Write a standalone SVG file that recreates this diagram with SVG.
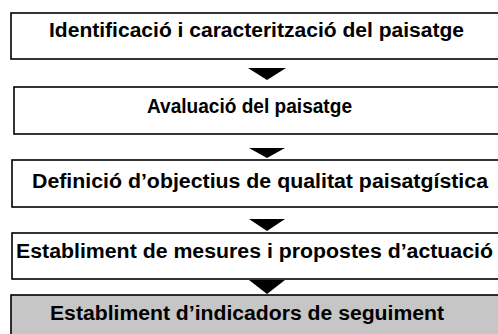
<svg xmlns="http://www.w3.org/2000/svg" width="498" height="334" viewBox="0 0 498 334">
<style>
.box{fill:#ffffff;stroke:#000000;stroke-width:1.6}
.grey{fill:#c6c6c6}
.lbl{font-family:"Liberation Sans",Arial,sans-serif;font-weight:bold;font-size:20px;fill:#000000}
.arr{fill:#000000}
</style>
<rect width="498" height="334" fill="#ffffff"/>
<g id="connectors">
<polygon class="arr" points="248,68 286,68 267,80"/>
<polygon class="arr" points="249,148 285,148 267,158"/>
<polygon class="arr" points="249,219 285,219 267,231"/>
<polygon class="arr" points="249,280 285,280 267,294"/>
</g>
<g id="node1">
<rect class="box" x="11" y="13" width="500" height="46"/>
<text class="lbl" x="49" y="37" textLength="415" lengthAdjust="spacingAndGlyphs">Identificació i caracterització del paisatge</text>
</g>
<g id="node2">
<rect class="box" x="14" y="87" width="500" height="47"/>
<text class="lbl" x="147" y="113" textLength="205" lengthAdjust="spacingAndGlyphs">Avaluació del paisatge</text>
</g>
<g id="node3">
<rect class="box" x="12" y="160" width="500" height="47"/>
<text class="lbl" x="32" y="188" textLength="456" lengthAdjust="spacingAndGlyphs">Definició d’objectius de qualitat paisatgística</text>
</g>
<g id="node4">
<rect class="box" x="12" y="233" width="500" height="46"/>
<text class="lbl" x="16" y="258" textLength="477" lengthAdjust="spacingAndGlyphs">Establiment de mesures i propostes d’actuació</text>
</g>
<g id="node5">
<rect class="box grey" x="11" y="295" width="500" height="50"/>
<text class="lbl" x="50" y="320" textLength="394" lengthAdjust="spacingAndGlyphs">Establiment d’indicadors de seguiment</text>
</g>
</svg>
